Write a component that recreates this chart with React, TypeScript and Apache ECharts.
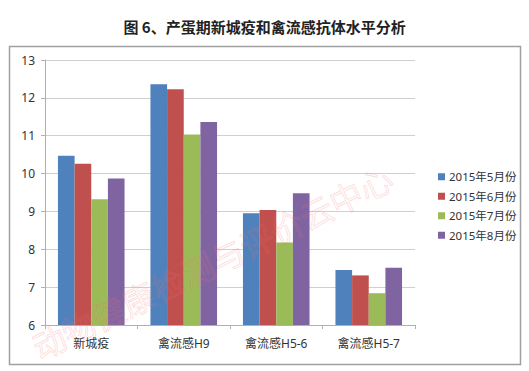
import React, { useEffect, useRef } from "react";
import * as echarts from "echarts";

const categories = ["新城疫", "禽流感H9", "禽流感H5-6", "禽流感H5-7"];
const seriesNames = ["2015年5月份", "2015年6月份", "2015年7月份", "2015年8月份"];
const may = [10.47, 12.36, 8.95, 7.45];
const june = [10.26, 12.23, 9.04, 7.31];
const july = [9.32, 11.03, 8.18, 6.84];
const august = [9.87, 11.36, 9.48, 7.51];
const colors = ["#4F81BD", "#C0504D", "#9BBB59", "#8064A2"];
const title = "图 6、产蛋期新城疫和禽流感抗体水平分析";
const watermark = "动物健康检测与评价云中心";

const FONT = '"Noto Sans", "Noto Sans CJK SC", sans-serif';

export default function App() {
  const ref = useRef<HTMLDivElement>(null);
  useEffect(() => {
    if (!ref.current) return;
    const chart = echarts.init(ref.current, undefined, { renderer: "svg" });
    const values = [may, june, july, august];
    chart.setOption({
      animation: false,
      backgroundColor: "#ffffff",
      textStyle: { fontFamily: FONT },
      title: {
        text: title,
        left: "center",
        top: 14,
        textStyle: { fontSize: 15, fontWeight: 600, color: "#222222", fontFamily: '"Noto Sans CJK SC", sans-serif' },
      },
      grid: { left: 45, right: 114, top: 60, bottom: 46 },
      legend: {
        orient: "vertical",
        left: 433,
        top: 166,
        itemWidth: 7,
        itemHeight: 7,
        itemGap: 8,
        icon: "rect",
        data: seriesNames,
        textStyle: { fontSize: 11.5, color: "#333333", fontFamily: FONT, padding: [0, 0, 0, -1] },
      },
      xAxis: {
        type: "category",
        data: categories,
        axisLine: { show: true, lineStyle: { color: "#b0b0b0", width: 1 } },
        axisTick: { show: true, length: 4, lineStyle: { color: "#b0b0b0" } },
        axisLabel: { fontSize: 12, color: "#333333", margin: 12, fontFamily: FONT },
      },
      yAxis: {
        type: "value",
        min: 6,
        max: 13,
        interval: 1,
        axisLine: { show: true, lineStyle: { color: "#b0b0b0", width: 1 } },
        axisTick: { show: true, length: 4, lineStyle: { color: "#b0b0b0" } },
        axisLabel: { fontSize: 12, color: "#333333", margin: 10, fontFamily: FONT },
        splitLine: { show: true, lineStyle: { color: "#cfcfcf", width: 1 } },
      },
      series: seriesNames.map((name, i) => ({
        name,
        type: "bar",
        data: values[i],
        barGap: "0%",
        barCategoryGap: "28%",
        itemStyle: { color: colors[i] },
      })),
      graphic: [
        {
          type: "rect",
          shape: { x: 9.5, y: 46.5, width: 511, height: 318 },
          style: { fill: "none", stroke: "#a0a0a0", lineWidth: 1.5 },
          silent: true,
        },
        {
          type: "text",
          x: 212,
          y: 262,
          rotation: (26 * Math.PI) / 180,
          style: {
            text: watermark,
            fontSize: 33,
            fontFamily: '"Noto Sans CJK SC", sans-serif',
            fill: "rgba(255, 140, 140, 0.08)",
            stroke: "rgba(240, 100, 100, 0.28)",
            lineWidth: 0.6,
            align: "center",
            verticalAlign: "middle",
          },
          z: 100,
          silent: true,
        },
      ],
    });
    return () => chart.dispose();
  }, []);
  return <div ref={ref} style={{ position: "fixed", left: 0, top: 0, width: 529, height: 371 }} />;
}
